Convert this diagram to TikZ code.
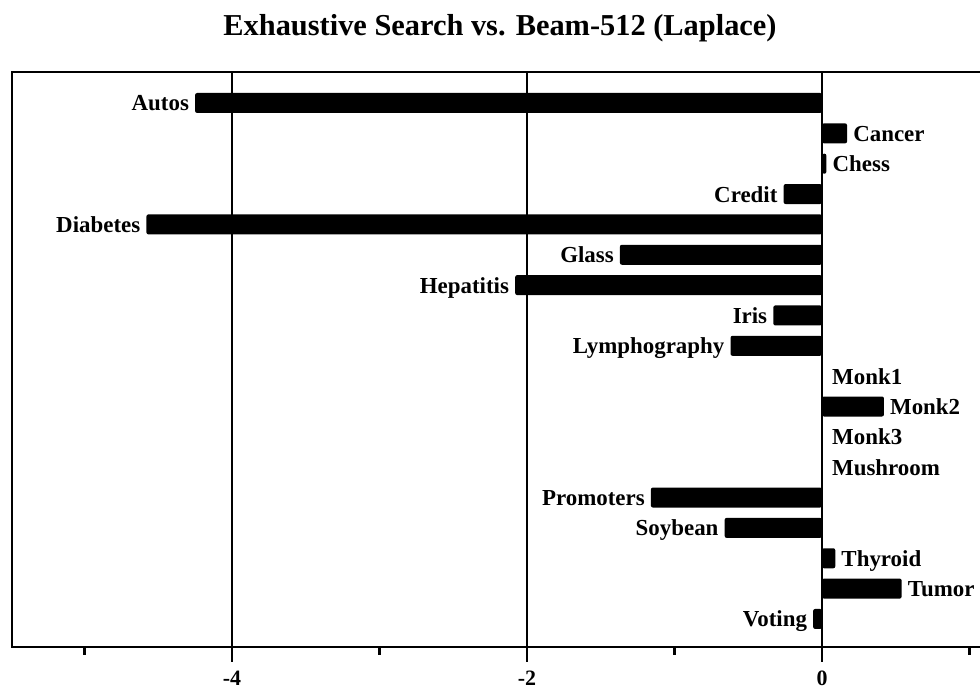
\documentclass[tikz,border=0pt]{standalone}
\usepackage{fontspec}
\setmainfont{Liberation Serif}
\begin{document}
\begin{tikzpicture}[x=1bp,y=-1bp,
  frame/.style={line width=2.8bp},
  gridline/.style={line width=2.5bp},
  bar/.style={fill=black, rounded corners=2bp},
  lab/.style={inner sep=0pt, font=\bfseries\fontsize{23}{26}\selectfont},
  ticklab/.style={inner sep=0pt, font=\bfseries\fontsize{22}{24}\selectfont},
  titlelab/.style={inner sep=0pt, font=\bfseries\fontsize{30.5}{33}\selectfont}]
\useasboundingbox (0,0) rectangle (980,689);

% value axis: 0 at x=822, one unit = 147.5
\def\xz{822}
\def\ux{147.5}

% title
\node[titlelab, anchor=base] (title) at (500,36) {Exhaustive Search vs. Beam-512 (Laplace)};

% plot frame (open towards the right edge)
\coordinate (tr) at (980,72);
\coordinate (tl) at (12,72);
\coordinate (bl) at (12,647);
\coordinate (br) at (980,647);
\draw[frame] (tr) -- (tl) -- (bl) -- (br);

% grid lines with major ticks and labels
\foreach \v in {-4,-2,0} {
  \pgfmathsetmacro\gx{\xz+\ux*\v}
  \coordinate (gtop\v) at (\gx,72);
  \coordinate (gbot\v) at (\gx,662);
  \draw[gridline] (gtop\v) -- (gbot\v);
  \node[ticklab, anchor=base] (tick\v) at (\gx,685) {\v};
}

% minor ticks
\foreach \v in {-5,-3,-1,1} {
  \pgfmathsetmacro\gx{\xz+\ux*\v}
  \coordinate (mt\v) at (\gx,647);
  \coordinate (mb\v) at (\gx,655);
  \draw[gridline] (mt\v) -- (mb\v);
}

% bars and their labels
\foreach \n/\v [count=\i] in {Autos/-4.25, Cancer/0.17, Chess/0.03, Credit/-0.26,
    Diabetes/-4.58, Glass/-1.37, Hepatitis/-2.08, Iris/-0.33, Lymphography/-0.62,
    Monk1/0, Monk2/0.42, Monk3/0, Mushroom/0, Promoters/-1.16, Soybean/-0.66,
    Thyroid/0.09, Tumor/0.54, Voting/-0.06} {
  \pgfmathsetmacro\yc{103+30.35*(\i-1)}
  \pgfmathsetmacro\xe{\xz+\ux*\v}
  \ifdim \v pt=0pt
    \node[lab, anchor=base west] (lab\i) at (\xz+10,\yc+8) {\n};
  \else
    \fill[bar] (\xz,\yc-10) rectangle (\xe,\yc+10);
    \ifdim \v pt<0pt
      \node[lab, anchor=base east] (lab\i) at (\xe-6,\yc+8) {\n};
    \else
      \node[lab, anchor=base west] (lab\i) at (\xe+6,\yc+8) {\n};
    \fi
  \fi
}
\end{tikzpicture}
\end{document}
